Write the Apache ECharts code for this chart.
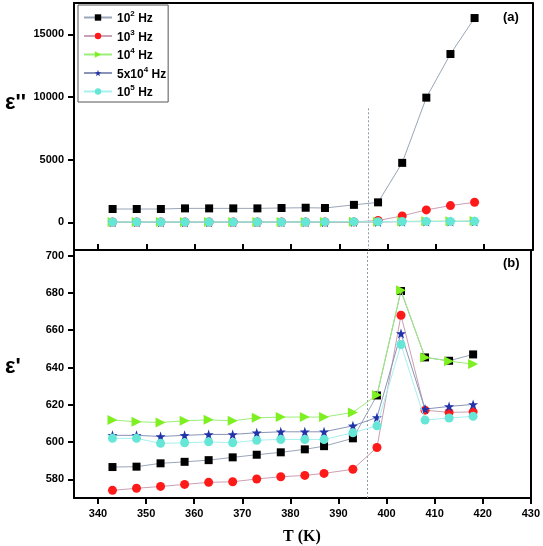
<!DOCTYPE html>
<html><head><meta charset="utf-8">
<script src="https://cdn.jsdelivr.net/npm/echarts@6/dist/echarts.min.js"></script>
<style>html,body{margin:0;padding:0;background:#fff}#c{width:543px;height:546px}</style>
</head><body><div id="c"></div>
<script>
const temps = [343,348,353,358,363,368,373,378,383,387,393,398,403,408,413,418];
const seriesNames = ['10^2 Hz','10^3 Hz','10^4 Hz','5x10^4 Hz','10^5 Hz'];
// epsilon'' (top panel)
const lossF2 = [1070,1070,1070,1120,1120,1120,1120,1150,1170,1150,1400,1600,4750,9950,13430,16300];
const lossF3 = [30,30,30,30,30,30,30,40,40,40,40,150,520,1000,1340,1610];
const lossF4 = [40,40,40,40,40,40,40,40,40,40,50,60,80,100,100,110];
const lossF45 = [20,20,20,20,20,20,20,20,20,20,30,40,60,70,70,80];
const lossF5 = [30,30,30,30,30,30,30,30,30,40,50,60,70,80,80,90];
// epsilon' (bottom panel)
const permF2 = [586.6,586.8,588.6,589.4,590.3,591.8,593.2,594.5,596.1,597.8,602.0,625.0,681.0,645.4,643.6,647.0];
const permF3 = [574.1,575.2,576.2,577.3,578.4,578.7,580.2,581.4,582.1,583.2,585.4,597.1,668.0,617.1,615.9,616.2];
const permF4 = [611.8,610.9,610.5,611.4,611.9,611.4,613.0,613.4,613.4,613.4,615.9,625.2,681.4,645.4,643.4,641.8];
const permF45 = [603.6,603.6,603.0,603.6,604.1,604.1,605.0,605.5,605.5,605.5,608.7,613.2,658.2,617.7,619.1,620.2];
const permF5 = [602.0,602.0,599.3,599.6,600.1,599.6,601.0,601.4,601.4,601.4,605.0,608.7,652.3,611.8,612.9,613.8];
const xTicks = [340,350,360,370,380,390,400,410,420,430];
const yTicksTop = [0,5000,10000,15000];
const yTicksBottom = [580,600,620,640,660,680,700];
const xRange = [335, 430];
const yRangeTop = [-2200, 17500];
const yRangeBottom = [570, 703];
const transitionT = 396;
const topLineStart = 9100;

const STAR = 'path://M0,-10 L2.35,-3.24 L9.51,-3.09 L3.8,1.24 L5.88,8.09 L0,4 L-5.88,8.09 L-3.8,1.24 L-9.51,-3.09 L-2.35,-3.24 Z';
const styles = [
  {symbol:'rect', size:8, rot:0, color:'#000000', line:'#9aa6b8'},
  {symbol:'circle', size:9, rot:0, color:'#ff1a1a', line:'#c9a0b4'},
  {symbol:'triangle', size:10, rot:-90, color:'#7ef022', line:'#9cee7a'},
  {symbol:STAR, size:10, rot:0, color:'#2233aa', line:'#8a93b8'},
  {symbol:'circle', size:9, rot:0, color:'#66e6d6', line:'#a6f0ee'}
];
const topData = [lossF2, lossF3, lossF4, lossF45, lossF5];
const botData = [permF2, permF3, permF4, permF45, permF5];

function mk(i, arr, xi, yi) {
  const s = styles[i];
  return {
    name: seriesNames[i], type: 'line', xAxisIndex: xi, yAxisIndex: yi,
    data: temps.map((t, k) => [t, arr[k]]),
    symbol: s.symbol, symbolSize: s.size, symbolRotate: s.rot,
    itemStyle: {color: s.color, borderColor: s.color, borderWidth: 0, opacity: 1},
    lineStyle: {color: s.line, width: 1},
    z: 2 + i, animation: false
  };
}
const series = [];
for (let i = 0; i < 5; i++) series.push(mk(i, topData[i], 0, 0));
for (let i = 0; i < 5; i++) series.push(mk(i, botData[i], 1, 1));
const ml = (lo, hi) => ({
  silent: true, symbol: ['none','none'], label: {show:false},
  lineStyle: {color:'#8c9aa8', type:[2,2], width:1},
  data: [[{coord:[transitionT, lo]}, {coord:[transitionT, hi]}]]
});
series[0].markLine = ml(topLineStart, yRangeTop[0]);
series[5].markLine = ml(yRangeBottom[0], yRangeBottom[1]);

function lab(vals, margin) {
  return {show:true, customValues:vals, margin:margin, color:'#000', fontFamily:'Liberation Sans, Arial',
          fontWeight:'bold', fontSize:11, formatter: v => String(v)};
}
function tick(vals, inside) {
  return {show:true, inside:inside, length:6, customValues:vals, lineStyle:{color:'#000', width:2}};
}
function line() { return {show:true, onZero:false, lineStyle:{color:'#000', width:2}}; }
function frame(grid, range, pos) {
  return {gridIndex:grid, type:'value', min:range[0], max:range[1], position:pos,
          axisLine:line(), axisTick:{show:false}, axisLabel:{show:false}, splitLine:{show:false}};
}
const supRich = {
  n: {fontSize:12, fontWeight:'bold', fontFamily:'Liberation Sans, Arial', color:'#000', lineHeight:15, verticalAlign:'bottom'},
  s: {fontSize:8, fontWeight:'bold', fontFamily:'Liberation Sans, Arial', color:'#000', lineHeight:15, verticalAlign:'top', padding:[0,0,5,0]}
};
const chart = echarts.init(document.getElementById('c'), null, {renderer:'canvas'});
chart.setOption({
  animation: false,
  backgroundColor: '#fff',
  grid: [
    {left:74, right:10.5, top:3, height:247},
    {left:74, right:10.5, top:250, height:248}
  ],
  xAxis: [
    {gridIndex:0, type:'value', min:xRange[0], max:xRange[1], position:'bottom', splitLine:{show:false},
     axisLine:line(), axisTick:tick(xTicks, true), axisLabel:{show:false}},
    {gridIndex:1, type:'value', min:xRange[0], max:xRange[1], position:'bottom', splitLine:{show:false},
     axisLine:line(), axisTick:tick(xTicks, false), axisLabel:lab(xTicks, 10)},
    frame(0, xRange, 'top'),
    frame(1, xRange, 'top')
  ],
  yAxis: [
    {gridIndex:0, type:'value', min:yRangeTop[0], max:yRangeTop[1], position:'left', splitLine:{show:false},
     axisLine:line(), axisTick:tick(yTicksTop, false), axisLabel:lab(yTicksTop, 10)},
    {gridIndex:1, type:'value', min:yRangeBottom[0], max:yRangeBottom[1], position:'left', splitLine:{show:false},
     axisLine:line(), axisTick:tick(yTicksBottom, false), axisLabel:lab(yTicksBottom, 10)},
    frame(0, yRangeTop, 'right'),
    frame(1, yRangeBottom, 'right')
  ],
  legend: {
    orient:'vertical', left:78, top:5, padding:[5,2,3,5],
    itemWidth:28, itemHeight:8, itemGap:3.5,
    borderColor:'#555', borderWidth:1,
    data: seriesNames,
    formatter: function (name) {
      const m = name.match(/^(.*?)10\^(\d) Hz$/);
      return '{n|' + m[1] + '10}{s|' + m[2] + '}{n| Hz}';
    },
    textStyle: {rich: supRich, fontWeight:'bold', fontSize:12}
  },
  graphic: [
    {type:'text', left:5, top:92, style:{text:"ε''", font:'bold 22px "Liberation Sans", Arial', fill:'#000'}},
    {type:'text', left:5, top:356, style:{text:"ε'", font:'bold 22px "Liberation Sans", Arial', fill:'#000'}},
    {type:'text', left:283, top:529, style:{text:'T (K)', font:'bold 16px "Liberation Serif", "Times New Roman", serif', fill:'#000'}},
    {type:'text', left:503, top:11, style:{text:'(a)', font:'bold 13px "Liberation Sans", Arial', fill:'#000'}},
    {type:'text', left:503, top:257, style:{text:'(b)', font:'bold 13px "Liberation Sans", Arial', fill:'#000'}}
  ],
  series: series
});
</script></body></html>
